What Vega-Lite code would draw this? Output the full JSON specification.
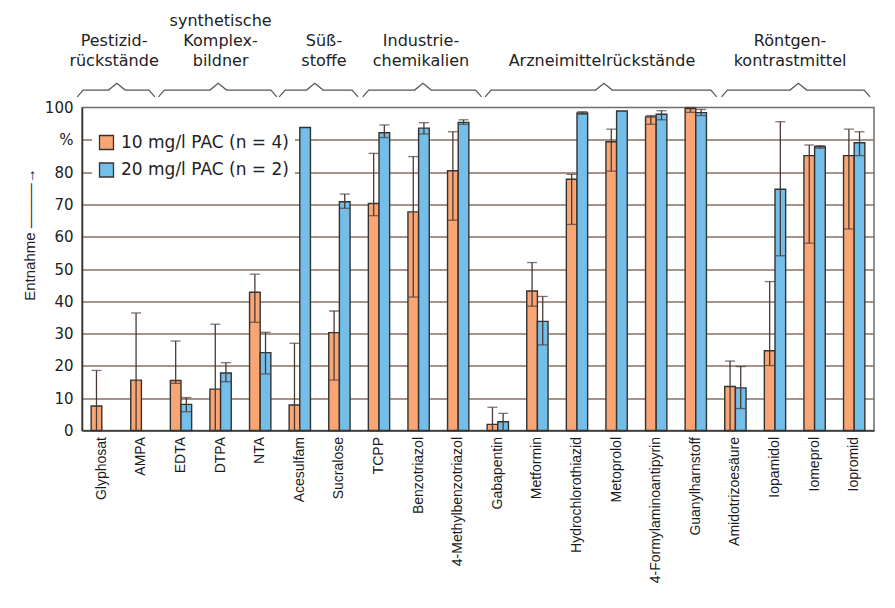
{
  "$schema": "https://vega.github.io/schema/vega-lite/v6.json",
  "width": 792,
  "height": 323,
  "autosize": {"type": "none"},
  "padding": {"left": 82, "top": 107.5, "right": 21, "bottom": 177.5},
  "background": "white",
  "config": {
    "view": {"stroke": "#6e6e6e", "strokeWidth": 1.5},
    "font": "Liberation Sans",
    "axisY": {
      "ticks": false,
      "domainColor": "#333", "domainWidth": 1.5,
      "grid": true, "gridColor": "#8a6f62", "gridWidth": 1.5,
      "labelFont": "DejaVu Sans", "labelFontSize": 15, "labelColor": "#222", "labelPadding": 9
    }
  },
  "datasets": {
    "bars": [
      {"substanz": "Glyphosat", "serie": "10 mg/l PAC (n = 4)", "entnahme": 7.6, "tief": 0, "hoch": 18.6},
      {"substanz": "AMPA", "serie": "10 mg/l PAC (n = 4)", "entnahme": 15.6, "tief": 0, "hoch": 36.4},
      {"substanz": "EDTA", "serie": "10 mg/l PAC (n = 4)", "entnahme": 15.5, "tief": 14.6, "hoch": 27.7},
      {"substanz": "EDTA", "serie": "20 mg/l PAC (n = 2)", "entnahme": 8.1, "tief": 5.8, "hoch": 10.2},
      {"substanz": "DTPA", "serie": "10 mg/l PAC (n = 4)", "entnahme": 12.8, "tief": 0, "hoch": 32.9},
      {"substanz": "DTPA", "serie": "20 mg/l PAC (n = 2)", "entnahme": 17.8, "tief": 15.1, "hoch": 21.0},
      {"substanz": "NTA", "serie": "10 mg/l PAC (n = 4)", "entnahme": 42.8, "tief": 33.5, "hoch": 48.4},
      {"substanz": "NTA", "serie": "20 mg/l PAC (n = 2)", "entnahme": 24.1, "tief": 17.5, "hoch": 30.4},
      {"substanz": "Acesulfam", "serie": "10 mg/l PAC (n = 4)", "entnahme": 7.9, "tief": 0, "hoch": 27.0},
      {"substanz": "Acesulfam", "serie": "20 mg/l PAC (n = 2)", "entnahme": 93.8, "tief": null, "hoch": null},
      {"substanz": "Sucralose", "serie": "10 mg/l PAC (n = 4)", "entnahme": 30.3, "tief": 15.6, "hoch": 37.0},
      {"substanz": "Sucralose", "serie": "20 mg/l PAC (n = 2)", "entnahme": 70.8, "tief": 68.8, "hoch": 73.2},
      {"substanz": "TCPP", "serie": "10 mg/l PAC (n = 4)", "entnahme": 70.3, "tief": 66.5, "hoch": 85.8},
      {"substanz": "TCPP", "serie": "20 mg/l PAC (n = 2)", "entnahme": 92.2, "tief": 90.7, "hoch": 94.6},
      {"substanz": "Benzotriazol", "serie": "10 mg/l PAC (n = 4)", "entnahme": 67.7, "tief": 41.3, "hoch": 84.8},
      {"substanz": "Benzotriazol", "serie": "20 mg/l PAC (n = 2)", "entnahme": 93.6, "tief": 91.8, "hoch": 95.3},
      {"substanz": "4-Methylbenzotriazol", "serie": "10 mg/l PAC (n = 4)", "entnahme": 80.4, "tief": 65.1, "hoch": 92.5},
      {"substanz": "4-Methylbenzotriazol", "serie": "20 mg/l PAC (n = 2)", "entnahme": 95.4, "tief": 94.8, "hoch": 96.2},
      {"substanz": "Gabapentin", "serie": "10 mg/l PAC (n = 4)", "entnahme": 1.9, "tief": 0, "hoch": 7.2},
      {"substanz": "Gabapentin", "serie": "20 mg/l PAC (n = 2)", "entnahme": 2.7, "tief": 0, "hoch": 5.3},
      {"substanz": "Metformin", "serie": "10 mg/l PAC (n = 4)", "entnahme": 43.2, "tief": 38.5, "hoch": 52.0},
      {"substanz": "Metformin", "serie": "20 mg/l PAC (n = 2)", "entnahme": 33.8, "tief": 26.5, "hoch": 41.5},
      {"substanz": "Hydrochlorothiazid", "serie": "10 mg/l PAC (n = 4)", "entnahme": 77.8, "tief": 63.8, "hoch": 79.3},
      {"substanz": "Hydrochlorothiazid", "serie": "20 mg/l PAC (n = 2)", "entnahme": 98.3, "tief": 97.9, "hoch": 98.7},
      {"substanz": "Metoprolol", "serie": "10 mg/l PAC (n = 4)", "entnahme": 89.4, "tief": 80.3, "hoch": 93.3},
      {"substanz": "Metoprolol", "serie": "20 mg/l PAC (n = 2)", "entnahme": 98.9, "tief": null, "hoch": null},
      {"substanz": "4-Formylaminoantipyrin", "serie": "10 mg/l PAC (n = 4)", "entnahme": 97.1, "tief": 94.8, "hoch": 97.5},
      {"substanz": "4-Formylaminoantipyrin", "serie": "20 mg/l PAC (n = 2)", "entnahme": 97.9, "tief": 96.2, "hoch": 99.0},
      {"substanz": "Guanylharnstoff", "serie": "10 mg/l PAC (n = 4)", "entnahme": 99.7, "tief": 98.5, "hoch": 100},
      {"substanz": "Guanylharnstoff", "serie": "20 mg/l PAC (n = 2)", "entnahme": 98.4, "tief": 97.5, "hoch": 99.4},
      {"substanz": "Amidotrizoesäure", "serie": "10 mg/l PAC (n = 4)", "entnahme": 13.6, "tief": 0, "hoch": 21.5},
      {"substanz": "Amidotrizoesäure", "serie": "20 mg/l PAC (n = 2)", "entnahme": 13.2, "tief": 6.8, "hoch": 19.8},
      {"substanz": "Iopamidol", "serie": "10 mg/l PAC (n = 4)", "entnahme": 24.7, "tief": 20.1, "hoch": 46.1},
      {"substanz": "Iopamidol", "serie": "20 mg/l PAC (n = 2)", "entnahme": 74.7, "tief": 54.1, "hoch": 95.6},
      {"substanz": "Iomeprol", "serie": "10 mg/l PAC (n = 4)", "entnahme": 85.1, "tief": 58.0, "hoch": 88.4},
      {"substanz": "Iomeprol", "serie": "20 mg/l PAC (n = 2)", "entnahme": 87.9, "tief": 87.4, "hoch": 88.2},
      {"substanz": "Iopromid", "serie": "10 mg/l PAC (n = 4)", "entnahme": 85.1, "tief": 62.4, "hoch": 93.3},
      {"substanz": "Iopromid", "serie": "20 mg/l PAC (n = 2)", "entnahme": 89.1, "tief": 85.1, "hoch": 92.5}
    ],
    "brackets": [
      {"gruppe": "P", "i": 0, "x": -0.12, "y": 103.3}, {"gruppe": "P", "i": 1, "x": 0.03, "y": 105.4}, {"gruppe": "P", "i": 2, "x": 0.67, "y": 105.4}, {"gruppe": "P", "i": 3, "x": 0.88, "y": 107.5}, {"gruppe": "P", "i": 4, "x": 1.09, "y": 105.4}, {"gruppe": "P", "i": 5, "x": 1.69, "y": 105.4}, {"gruppe": "P", "i": 6, "x": 1.84, "y": 103.3},
      {"gruppe": "K", "i": 0, "x": 1.93, "y": 103.3}, {"gruppe": "K", "i": 1, "x": 2.08, "y": 105.4}, {"gruppe": "K", "i": 2, "x": 3.23, "y": 105.4}, {"gruppe": "K", "i": 3, "x": 3.44, "y": 107.5}, {"gruppe": "K", "i": 4, "x": 3.65, "y": 105.4}, {"gruppe": "K", "i": 5, "x": 4.77, "y": 105.4}, {"gruppe": "K", "i": 6, "x": 4.92, "y": 103.3},
      {"gruppe": "S", "i": 0, "x": 4.98, "y": 103.3}, {"gruppe": "S", "i": 1, "x": 5.13, "y": 105.4}, {"gruppe": "S", "i": 2, "x": 5.67, "y": 105.4}, {"gruppe": "S", "i": 3, "x": 5.88, "y": 107.5}, {"gruppe": "S", "i": 4, "x": 6.09, "y": 105.4}, {"gruppe": "S", "i": 5, "x": 6.82, "y": 105.4}, {"gruppe": "S", "i": 6, "x": 6.97, "y": 103.3},
      {"gruppe": "I", "i": 0, "x": 7.09, "y": 103.3}, {"gruppe": "I", "i": 1, "x": 7.24, "y": 105.4}, {"gruppe": "I", "i": 2, "x": 8.40, "y": 105.4}, {"gruppe": "I", "i": 3, "x": 8.61, "y": 107.5}, {"gruppe": "I", "i": 4, "x": 8.82, "y": 105.4}, {"gruppe": "I", "i": 5, "x": 9.94, "y": 105.4}, {"gruppe": "I", "i": 6, "x": 10.09, "y": 103.3},
      {"gruppe": "A", "i": 0, "x": 10.18, "y": 103.3}, {"gruppe": "A", "i": 1, "x": 10.33, "y": 105.4}, {"gruppe": "A", "i": 2, "x": 12.97, "y": 105.4}, {"gruppe": "A", "i": 3, "x": 13.18, "y": 107.5}, {"gruppe": "A", "i": 4, "x": 13.39, "y": 105.4}, {"gruppe": "A", "i": 5, "x": 15.88, "y": 105.4}, {"gruppe": "A", "i": 6, "x": 16.03, "y": 103.3},
      {"gruppe": "R", "i": 0, "x": 16.15, "y": 103.3}, {"gruppe": "R", "i": 1, "x": 16.30, "y": 105.4}, {"gruppe": "R", "i": 2, "x": 17.88, "y": 105.4}, {"gruppe": "R", "i": 3, "x": 18.09, "y": 107.5}, {"gruppe": "R", "i": 4, "x": 18.30, "y": 105.4}, {"gruppe": "R", "i": 5, "x": 19.75, "y": 105.4}, {"gruppe": "R", "i": 6, "x": 19.90, "y": 103.3}
    ],
    "gruppen": [
      {"label": "Pestizid-\nrückstände", "x": 0.81, "y": 119.0},
      {"label": "synthetische\nKomplex-\nbildner", "x": 3.5, "y": 125.2},
      {"label": "Süß-\nstoffe", "x": 6.11, "y": 119.0},
      {"label": "Industrie-\nchemikalien", "x": 8.56, "y": 119.0},
      {"label": "Arzneimittelrückstände", "x": 13.13, "y": 112.85},
      {"label": "Röntgen-\nkontrastmittel", "x": 17.88, "y": 119.0}
    ]
  },
  "layer": [
    {
      "data": {"name": "bars"},
      "encoding": {
        "x": {
          "field": "substanz", "type": "nominal",
          "sort": ["Glyphosat", "AMPA", "EDTA", "DTPA", "NTA", "Acesulfam", "Sucralose", "TCPP", "Benzotriazol", "4-Methylbenzotriazol", "Gabapentin", "Metformin", "Hydrochlorothiazid", "Metoprolol", "4-Formylaminoantipyrin", "Guanylharnstoff", "Amidotrizoesäure", "Iopamidol", "Iomeprol", "Iopromid"],
          "scale": {"paddingInner": 0.462, "paddingOuter": 0.231},
          "axis": {"title": null, "labelAngle": -90, "labelFont": "Liberation Sans", "labelFontSize": 14, "labelColor": "#1a1a1a", "ticks": false, "labelPadding": 6, "domainColor": "#333", "domainWidth": 1.5, "grid": false}
        },
        "xOffset": {
          "field": "serie", "type": "nominal",
          "scale": {"domain": ["10 mg/l PAC (n = 4)", "20 mg/l PAC (n = 2)"], "paddingInner": 0, "paddingOuter": 0}
        }
      },
      "layer": [
        {
          "mark": {"type": "bar", "stroke": "#333", "strokeWidth": 1.4},
          "encoding": {
            "y": {
              "field": "entnahme", "type": "quantitative",
              "scale": {"domain": [0, 100], "nice": false},
              "title": "Entnahme ———→",
              "axis": {
                "values": [0, 10, 20, 30, 40, 50, 60, 70, 80, 90, 100],
                "labelExpr": "datum.value == 90 ? '%' : datum.label",
                "gridOpacity": {"condition": {"test": "datum.value == 0 || datum.value == 100", "value": 0}, "value": 1},
                "titleFont": "Liberation Sans", "titleFontSize": 15, "titleFontWeight": "normal", "titleColor": "#222",
                "titleAngle": -90, "titleX": -53, "titleY": 126.5, "titleAlign": "center", "titleBaseline": "middle"
              }
            },
            "color": {
              "field": "serie", "type": "nominal",
              "scale": {"domain": ["10 mg/l PAC (n = 4)", "20 mg/l PAC (n = 2)"], "range": ["#F9A574", "#74BEEA"]},
              "legend": {
                "title": null, "orient": "none", "legendX": 10, "legendY": 20.5,
                "fillColor": "white", "padding": 6,
                "symbolType": "square", "symbolSize": 196, "symbolStrokeColor": "#333", "symbolStrokeWidth": 1.3,
                "labelFont": "DejaVu Sans", "labelFontSize": 17, "labelColor": "#222", "labelOffset": 6, "rowPadding": 6.5, "labelLimit": 0
              }
            }
          }
        },
        {
          "transform": [{"filter": "isValid(datum.hoch)"}],
          "mark": {"type": "rule", "color": "#4a3a34", "strokeWidth": 1.3},
          "encoding": {
            "y": {"field": "tief", "type": "quantitative", "scale": {"domain": [0, 100], "nice": false}, "title": "Entnahme ———→",
              "axis": {
                "values": [0, 10, 20, 30, 40, 50, 60, 70, 80, 90, 100],
                "labelExpr": "datum.value == 90 ? '%' : datum.label",
                "gridOpacity": {"condition": {"test": "datum.value == 0 || datum.value == 100", "value": 0}, "value": 1},
                "titleFont": "Liberation Sans", "titleFontSize": 15, "titleFontWeight": "normal", "titleColor": "#222",
                "titleAngle": -90, "titleX": -53, "titleY": 126.5, "titleAlign": "center", "titleBaseline": "middle"
              }},
            "y2": {"field": "hoch"}
          }
        },
        {
          "transform": [{"filter": "isValid(datum.hoch)"}],
          "mark": {"type": "tick", "color": "#4a3a34", "thickness": 1.3, "size": 10},
          "encoding": {
            "y": {"field": "hoch", "type": "quantitative", "scale": {"domain": [0, 100], "nice": false}, "title": "Entnahme ———→",
              "axis": {
                "values": [0, 10, 20, 30, 40, 50, 60, 70, 80, 90, 100],
                "labelExpr": "datum.value == 90 ? '%' : datum.label",
                "gridOpacity": {"condition": {"test": "datum.value == 0 || datum.value == 100", "value": 0}, "value": 1},
                "titleFont": "Liberation Sans", "titleFontSize": 15, "titleFontWeight": "normal", "titleColor": "#222",
                "titleAngle": -90, "titleX": -53, "titleY": 126.5, "titleAlign": "center", "titleBaseline": "middle"
              }}
          }
        },
        {
          "transform": [{"filter": "isValid(datum.tief) && datum.tief > 0"}],
          "mark": {"type": "tick", "color": "#4a3a34", "thickness": 1.3, "size": 10},
          "encoding": {
            "y": {"field": "tief", "type": "quantitative", "scale": {"domain": [0, 100], "nice": false}, "title": "Entnahme ———→",
              "axis": {
                "values": [0, 10, 20, 30, 40, 50, 60, 70, 80, 90, 100],
                "labelExpr": "datum.value == 90 ? '%' : datum.label",
                "gridOpacity": {"condition": {"test": "datum.value == 0 || datum.value == 100", "value": 0}, "value": 1},
                "titleFont": "Liberation Sans", "titleFontSize": 15, "titleFontWeight": "normal", "titleColor": "#222",
                "titleAngle": -90, "titleX": -53, "titleY": 126.5, "titleAlign": "center", "titleBaseline": "middle"
              }}
          }
        }
      ]
    },
    {
      "data": {"name": "brackets"},
      "mark": {"type": "line", "color": "#555", "strokeWidth": 1.2, "clip": false},
      "encoding": {
        "x": {"field": "x", "type": "quantitative", "scale": {"domain": [0, 20], "nice": false, "zero": false}, "axis": null},
        "y": {"field": "y", "type": "quantitative", "scale": {"domain": [0, 100], "nice": false}, "title": "Entnahme ———→",
          "axis": {
            "values": [0, 10, 20, 30, 40, 50, 60, 70, 80, 90, 100],
            "labelExpr": "datum.value == 90 ? '%' : datum.label",
            "gridOpacity": {"condition": {"test": "datum.value == 0 || datum.value == 100", "value": 0}, "value": 1},
            "titleFont": "Liberation Sans", "titleFontSize": 15, "titleFontWeight": "normal", "titleColor": "#222",
            "titleAngle": -90, "titleX": -53, "titleY": 126.5, "titleAlign": "center", "titleBaseline": "middle"
          }},
        "detail": {"field": "gruppe"},
        "order": {"field": "i"}
      }
    },
    {
      "data": {"name": "gruppen"},
      "mark": {"type": "text", "font": "DejaVu Sans", "fontSize": 16, "lineBreak": "\n", "lineHeight": 20, "baseline": "alphabetic", "align": "center", "color": "#222", "clip": false},
      "encoding": {
        "x": {"field": "x", "type": "quantitative", "scale": {"domain": [0, 20], "nice": false, "zero": false}, "axis": null},
        "y": {"field": "y", "type": "quantitative", "scale": {"domain": [0, 100], "nice": false}, "title": "Entnahme ———→",
          "axis": {
            "values": [0, 10, 20, 30, 40, 50, 60, 70, 80, 90, 100],
            "labelExpr": "datum.value == 90 ? '%' : datum.label",
            "gridOpacity": {"condition": {"test": "datum.value == 0 || datum.value == 100", "value": 0}, "value": 1},
            "titleFont": "Liberation Sans", "titleFontSize": 15, "titleFontWeight": "normal", "titleColor": "#222",
            "titleAngle": -90, "titleX": -53, "titleY": 126.5, "titleAlign": "center", "titleBaseline": "middle"
          }},
        "text": {"field": "label"}
      }
    }
  ],
  "resolve": {"scale": {"x": "independent"}}
}
